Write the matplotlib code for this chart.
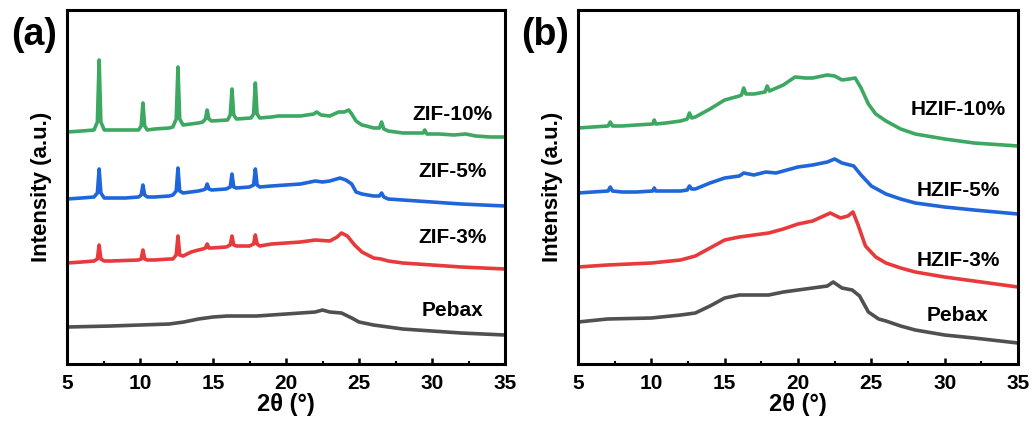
import matplotlib
matplotlib.use("Agg")
import matplotlib.pyplot as plt
from matplotlib.ticker import MultipleLocator

plt.rcParams['font.family'] = ['Liberation Sans', 'DejaVu Sans']
plt.rcParams['font.weight'] = 'bold'

# ---- panel (a): Pebax membranes with ZIF-8 loading ----
zif10_x = [5, 6, 6.85, 7.08, 7.2, 7.32, 7.55, 8, 9,
           9.9, 10.08, 10.2, 10.32, 10.5, 11, 12,
           12.25, 12.48, 12.6, 12.72, 12.95,
           14, 14.3, 14.48, 14.6, 14.72, 14.9,
           16, 16.18, 16.3, 16.42, 16.6,
           17.6, 17.78, 17.9, 18.02, 18.2,
           19, 19.5, 20, 21, 21.9, 22.1, 22.4, 23, 23.6, 24, 24.3, 24.5, 24.8, 25.2, 25.5,
           26, 26.4, 26.55, 26.7, 27, 28, 29.4, 29.5, 29.65, 30.5, 31.5, 32.3, 33, 34, 35]
zif10_y = [232, 233, 234, 242, 304, 242, 234, 234, 234,
           234, 238, 261, 238, 234, 235, 236,
           237, 245, 297, 245, 239,
           241, 242, 245, 254, 245, 243,
           244, 249, 275, 249, 245,
           246, 250, 281, 250, 246,
           247, 248, 248, 248, 250, 252, 249, 248, 252, 252, 254, 250, 243, 239, 238,
           236, 236, 242, 235, 233, 231, 231, 234, 230, 230, 229, 230, 228, 227, 227]

zif5_x = [5, 6, 6.85, 7.08, 7.2, 7.32, 7.55, 8, 9,
          9.9, 10.08, 10.2, 10.32, 10.5, 11, 12,
          12.25, 12.48, 12.6, 12.72, 12.95,
          14, 14.3, 14.48, 14.6, 14.72, 14.9,
          15.9, 16.18, 16.3, 16.42, 16.6,
          17.5, 17.78, 17.9, 18.02, 18.2,
          19, 20, 21, 22, 22.5, 23, 23.7, 24.1, 24.5, 24.8, 25.2,
          26, 26.4, 26.55, 26.7, 27, 28, 30, 32, 35]
zif5_y = [165, 166, 167, 171, 195, 171, 166, 166, 166,
          167, 169, 179, 169, 167, 167, 168,
          169, 173, 196, 173, 171,
          173, 174, 175, 180, 175, 174,
          175, 177, 190, 177, 176,
          177, 179, 195, 179, 177,
          178, 179, 180, 183, 182, 183, 186, 184, 180, 172, 170,
          168, 168, 171, 167, 165, 164, 162, 160, 158]

zif3_x = [5, 6, 6.85, 7.08, 7.2, 7.32, 7.55, 8,
          9.9, 10.08, 10.2, 10.32, 10.5, 11, 12,
          12.25, 12.48, 12.6, 12.72, 12.95, 13.5,
          14, 14.3, 14.48, 14.6, 14.72, 14.9,
          15.9, 16.18, 16.3, 16.42, 16.6,
          17.5, 17.78, 17.9, 18.02, 18.2,
          19, 20, 21, 22, 23, 23.5, 23.8, 24.2, 24.7, 25.2,
          26, 26.5, 27, 28, 30, 32, 35]
zif3_y = [101, 102, 103, 105, 119, 105, 103, 103,
          104, 105, 114, 105, 104, 104, 105,
          105, 109, 128, 109, 108, 112,
          114, 115, 116, 120, 116, 116,
          117, 119, 128, 119, 118,
          118, 120, 129, 120, 118,
          120, 121, 122, 124, 123, 127, 131, 128, 119, 112,
          106, 105, 103, 101, 99, 97, 95]

pebax_a_x = [5, 8, 10, 12, 13, 14, 15, 16, 17, 18, 19, 20, 21, 22, 22.5, 23, 23.8, 24.5,
             25, 26, 27, 28, 30, 32, 35]
pebax_a_y = [37, 38, 39, 40, 42, 45, 47, 48, 48, 48, 49, 50, 51, 52, 54, 52, 51, 46,
             42, 39, 37, 35, 33, 31, 29]

# ---- panel (b): Pebax membranes with HZIF-8 loading ----
hzif10_x = [5, 6, 7.05, 7.2, 7.35, 8, 9, 10.1, 10.2, 10.3, 11, 12, 12.45, 12.6, 12.75, 13,
            14, 15, 16, 16.15, 16.3, 16.45, 17, 17.75, 17.9, 18.05, 19, 19.8, 20.5, 21,
            22, 22.5, 23, 23.5, 23.9, 24.3, 24.8, 25.3, 26, 27, 28, 30, 32, 35]
hzif10_y = [236, 237, 238, 242, 238, 238, 239, 240, 244, 240, 241, 243, 245, 251, 246, 247,
            255, 264, 268, 269, 276, 270, 270, 272, 278, 273, 279, 287, 286, 286,
            289, 288, 284, 285, 286, 276, 260, 250, 243, 235, 230, 225, 221, 218]

hzif5_x = [5, 6, 7.05, 7.2, 7.35, 8, 9, 10.1, 10.2, 10.3, 11, 12, 12.45, 12.6, 12.75, 13,
           14, 15, 16, 16.3, 17, 17.8, 18.5, 19, 20, 21, 22, 22.5, 23, 23.8, 24.3, 25,
           26, 27, 28, 30, 32, 35]
hzif5_y = [171, 172, 173, 177, 173, 172, 172, 173, 176, 173, 173, 173, 174, 178, 175, 175,
           181, 186, 188, 191, 189, 192, 191, 193, 197, 199, 202, 205, 201, 198, 189, 178,
           170, 165, 161, 157, 154, 150]

hzif3_x = [5, 7, 10, 12, 13, 14, 15, 16, 17, 18, 19, 20, 21, 22.2, 22.9, 23.4, 23.75, 24.1,
           24.6, 25.3, 26, 27, 28, 30, 32, 35]
hzif3_y = [97, 99, 101, 104, 108, 116, 124, 127, 129, 131, 135, 140, 143, 151, 146, 148,
           152, 139, 118, 107, 101, 96, 92, 87, 83, 77]

pebax_b_x = [5, 7, 10, 12, 13, 14, 15, 16, 17, 18, 19, 20, 21, 22, 22.4, 23, 23.7, 24.2,
             24.8, 25.5, 26, 27, 28, 30, 32, 35]
pebax_b_y = [42, 45, 46, 49, 51, 58, 66, 69, 69, 69, 72, 74, 76, 78, 82, 76, 74, 68,
             52, 45, 43, 38, 34, 29, 26, 21]

series_a = [
    (pebax_a_x, pebax_a_y, '#505050', 'Pebax', 54),
    (zif3_x, zif3_y, '#E8393C', 'ZIF-3%', 127),
    (zif5_x, zif5_y, '#1F66DA', 'ZIF-5%', 192),
    (zif10_x, zif10_y, '#3CA862', 'ZIF-10%', 249),
]
series_b = [
    (pebax_b_x, pebax_b_y, '#505050', 'Pebax', 49),
    (hzif3_x, hzif3_y, '#E8393C', 'HZIF-3%', 104),
    (hzif5_x, hzif5_y, '#1F66DA', 'HZIF-5%', 174),
    (hzif10_x, hzif10_y, '#3CA862', 'HZIF-10%', 254),
]

fig = plt.figure(figsize=(10.34, 4.25), dpi=100)
ax_a = fig.add_axes([0.0648, 0.1435, 0.4236, 0.833])
ax_b = fig.add_axes([0.559, 0.1435, 0.4255, 0.833])


def draw_panel(ax, series, label_x, tag, tag_x):
    for xs, ys, color, name, ly in series:
        ax.plot(xs, ys, color=color, lw=2.6, solid_joinstyle='round')
        ax.text(label_x, ly, name, ha='center', va='center', fontsize=15,
                fontweight='bold')
    ax.set_xlim(5, 35)
    ax.set_ylim(0, 354)
    ax.set_yticks([])
    ax.xaxis.set_major_locator(MultipleLocator(5))
    ax.xaxis.set_minor_locator(MultipleLocator(2.5))
    ax.tick_params(axis='x', which='major', direction='in', length=4, width=1.8,
                   labelsize=15, pad=7)
    ax.tick_params(axis='x', which='minor', direction='in', length=2.5, width=1.5)
    for lab in ax.get_xticklabels():
        lab.set_fontweight('bold')
    for sp in ax.spines.values():
        sp.set_linewidth(2.2)
    ax.set_xlabel('2θ (°)', fontsize=17, fontweight='bold', labelpad=0)
    ax.set_ylabel('Intensity (a.u.)', fontsize=16, fontweight='bold', labelpad=11)
    fig.text(tag_x, 0.918, tag, fontsize=27, fontweight='bold',
             ha='left', va='center')


draw_panel(ax_a, series_a, 31.4, '(a)', 0.011)
draw_panel(ax_b, series_b, 30.9, '(b)', 0.504)

fig.savefig('out.png', dpi=100)
